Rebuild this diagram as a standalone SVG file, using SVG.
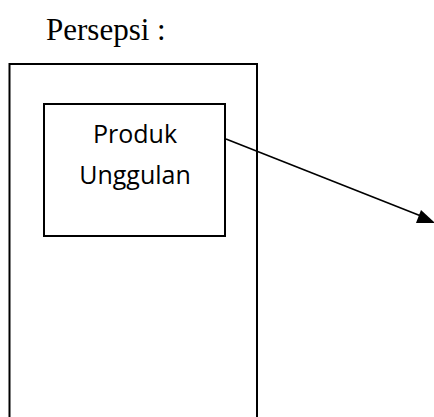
<svg xmlns="http://www.w3.org/2000/svg" width="434" height="417" viewBox="0 0 434 417">
<style>
.box{fill:none;stroke:#000;stroke-width:2}
.title{font-family:"Liberation Serif","Times New Roman",serif;font-size:31px;fill:#000}
.lbl{font-family:"Open Sans","Noto Sans",sans-serif;font-size:25px;fill:#000;text-anchor:middle}
.conn{stroke:#000;stroke-width:1.6;fill:none}
</style>
<rect width="434" height="417" fill="#fff"/>
<text class="title" x="46" y="40">Persepsi :</text>
<g id="outer"><path class="box" d="M9.5,420 V64 H257 V420"/></g>
<g id="produk">
<rect class="box" x="44" y="104" width="181" height="132"/>
<text class="lbl" x="135" y="143">Produk</text>
<text class="lbl" x="135" y="184">Unggulan</text>
</g>
<g id="connectors">
<line class="conn" x1="226" y1="139" x2="421" y2="216"/>
<path d="M435,223 L416,223 L421,210 Z" fill="#000"/>
</g>
</svg>
